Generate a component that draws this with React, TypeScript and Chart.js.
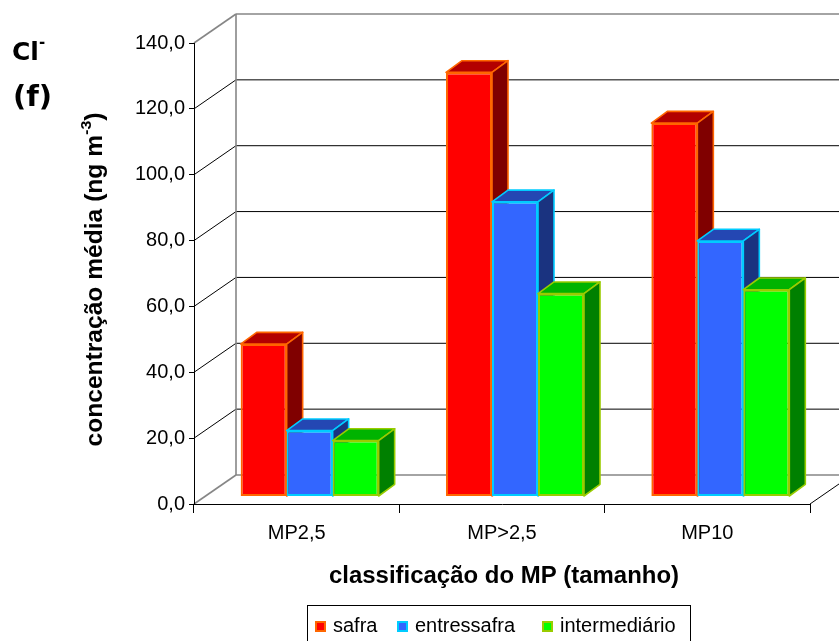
import { useEffect, useRef } from 'react';
import { Chart, registerables } from 'chart.js';

Chart.register(...registerables);

// Mean chloride concentration (ng m-3) per particle-size class and season
const categories = ['MP2,5', 'MP>2,5', 'MP10'];
const seriesNames = ['safra', 'entressafra', 'intermediário'];
const safra = [46.3, 128.8, 113.4];
const entressafra = [20.0, 89.5, 77.6];
const intermediario = [17.0, 61.6, 62.8];
const yMin = 0;
const yMax = 140;
const yStep = 20;

const frontColors = ['#FF0000', '#3366FF', '#00FF00'];
const edgeColors = ['#FF6600', '#00CCFF', '#99CC00'];
const topColors = ['#B30000', '#2447B3', '#00B300'];
const sideColors = ['#800000', '#1A3380', '#008000'];

const SANS = '"Liberation Sans", Arial, Helvetica, sans-serif';
const DECOR = '"DejaVu Sans", "Liberation Sans", sans-serif';

// oblique projection of the plot depth, the bars' placement and their own depth
const WALL = { dx: 42, dy: -29 };
const BAR_OFFSET = { dx: 13, dy: -7.5 };
const BAR_DEPTH = { dx: 16, dy: -11.7 };

const LEGEND_BOX = { x: 307.5, y: 605.5, w: 383, h: 60 };
const LEGEND_MARK_X = [315, 397, 542];

function seg(ctx: CanvasRenderingContext2D, x1: number, y1: number, x2: number, y2: number, color: string, w: number) {
  ctx.beginPath();
  ctx.moveTo(x1, y1);
  ctx.lineTo(x2, y2);
  ctx.strokeStyle = color;
  ctx.lineWidth = w;
  ctx.stroke();
}

function poly(ctx: CanvasRenderingContext2D, pts: number[][], fill: string, stroke: string) {
  ctx.beginPath();
  ctx.moveTo(pts[0][0], pts[0][1]);
  for (let i = 1; i < pts.length; i++) ctx.lineTo(pts[i][0], pts[i][1]);
  ctx.closePath();
  ctx.fillStyle = fill;
  ctx.fill();
  ctx.strokeStyle = stroke;
  ctx.lineWidth = 1.6;
  ctx.stroke();
}

type Part = { text: string; font: string; rise?: number };

// draws a run of differently styled text pieces, centred on (0,0) of the current transform
function richText(ctx: CanvasRenderingContext2D, parts: Part[], width?: number) {
  ctx.save();
  const widths = parts.map((p) => {
    ctx.font = p.font;
    return ctx.measureText(p.text).width;
  });
  const total = widths.reduce((s, w) => s + w, 0);
  if (width) ctx.scale(width / total, 1);
  ctx.textAlign = 'left';
  ctx.textBaseline = 'middle';
  ctx.fillStyle = '#000';
  let x = -total / 2;
  parts.forEach((p, i) => {
    ctx.font = p.font;
    ctx.fillText(p.text, x, -(p.rise || 0));
    x += widths[i];
  });
  ctx.restore();
}

const box3d = {
  id: 'box3d',
  beforeDraw(chart: any) {
    const { ctx, chartArea: a } = chart;
    const y = chart.scales.y;
    ctx.save();
    ctx.fillStyle = '#fff';
    ctx.fillRect(0, 0, chart.width, chart.height);
    const backLeft = a.left + WALL.dx;
    const backRight = a.right + WALL.dx;
    y.ticks.forEach((t: any) => {
      const py = y.getPixelForValue(t.value);
      const edge = t.value === y.min || t.value === y.max;
      const col = edge ? '#868686' : '#000';
      const w = edge ? 1.6 : 1;
      seg(ctx, a.left, py, backLeft, py + WALL.dy, col, w);
      seg(ctx, backLeft, py + WALL.dy, backRight, py + WALL.dy, col, w);
    });
    seg(ctx, backLeft, a.top + WALL.dy, backLeft, a.bottom + WALL.dy, '#868686', 1.6);
    seg(ctx, a.right, a.bottom, backRight, a.bottom + WALL.dy, '#000', 1);
    ctx.restore();
  },
  beforeDatasetsDraw(chart: any) {
    const { ctx } = chart;
    const n = chart.data.datasets.length;
    ctx.save();
    ctx.translate(BAR_OFFSET.dx, BAR_OFFSET.dy);
    ctx.lineJoin = 'round';
    // painter's order: left to right inside each group, front face then top and side
    categories.forEach((_, i) => {
      for (let d = 0; d < n; d++) {
        const bar = chart.getDatasetMeta(d).data[i];
        const { x, y, base, width } = bar.getProps(['x', 'y', 'base', 'width'], true);
        bar.draw(ctx);
        const x0 = x - width / 2;
        const x1 = x + width / 2;
        const { dx, dy } = BAR_DEPTH;
        poly(ctx, [[x0, y], [x1, y], [x1 + dx, y + dy], [x0 + dx, y + dy]], topColors[d], edgeColors[d]);
        poly(ctx, [[x1, y], [x1 + dx, y + dy], [x1 + dx, base + dy], [x1, base]], sideColors[d], edgeColors[d]);
      }
    });
    ctx.restore();
    return false;
  },
  afterDraw(chart: any) {
    const { ctx, chartArea: a } = chart;
    ctx.save();

    // value axis title
    ctx.save();
    ctx.translate(96, (a.top + a.bottom) / 2 + 6);
    ctx.rotate(-Math.PI / 2);
    richText(
      ctx,
      [
        { text: 'concentração média (ng m', font: `bold 23px ${SANS}` },
        { text: '-3', font: `bold 15px ${SANS}`, rise: 9 },
        { text: ')', font: `bold 23px ${SANS}` },
      ],
      334
    );
    ctx.restore();

    // category axis title
    ctx.save();
    ctx.translate((a.left + a.right) / 2 + 2, 577);
    richText(ctx, [{ text: 'classificação do MP (tamanho)', font: `bold 23px ${SANS}` }], 350);
    ctx.restore();

    // ion and panel labels
    ctx.fillStyle = '#000';
    ctx.textAlign = 'left';
    ctx.textBaseline = 'alphabetic';
    ctx.font = `bold 25px ${DECOR}`;
    ctx.fillText('Cl', 12, 60);
    const clW = ctx.measureText('Cl').width;
    ctx.font = `bold 15px ${DECOR}`;
    ctx.fillText('-', 12 + clW, 47);
    ctx.font = `bold 29px ${DECOR}`;
    ctx.fillText('(f)', 13, 106);

    // legend
    ctx.strokeStyle = '#000';
    ctx.lineWidth = 1;
    ctx.strokeRect(LEGEND_BOX.x, LEGEND_BOX.y, LEGEND_BOX.w, LEGEND_BOX.h);
    ctx.font = `20px ${SANS}`;
    seriesNames.forEach((name, d) => {
      const mx = LEGEND_MARK_X[d];
      ctx.fillStyle = edgeColors[d];
      ctx.fillRect(mx, 621, 11, 11);
      ctx.fillStyle = frontColors[d];
      ctx.fillRect(mx + 2, 623, 7, 7);
      ctx.fillStyle = '#000';
      ctx.fillText(name, mx + 18, 632);
    });
    ctx.restore();
  },
};

export default function App() {
  const ref = useRef<HTMLCanvasElement | null>(null);

  useEffect(() => {
    if (!ref.current) return;
    const series = [safra, entressafra, intermediario];
    const chart = new Chart(ref.current, {
      type: 'bar',
      data: {
        labels: categories,
        datasets: series.map((values, i) => ({
          label: seriesNames[i],
          data: values,
          backgroundColor: frontColors[i],
          borderColor: edgeColors[i],
          borderWidth: 2,
          borderSkipped: false,
          categoryPercentage: 0.672,
          barPercentage: 1,
        })),
      },
      options: {
        responsive: false,
        animation: false,
        devicePixelRatio: 1,
        layout: { padding: { left: 0, top: 43, right: 29, bottom: 0 } },
        plugins: {
          legend: { display: false },
          tooltip: { enabled: false },
          title: { display: false },
        },
        scales: {
          x: {
            grid: { offset: true, drawOnChartArea: false, tickLength: 9, color: '#000' },
            border: { color: '#000', width: 1 },
            ticks: { font: { family: SANS, size: 20 }, color: '#000', padding: 8, maxRotation: 0 },
            afterFit: (s: any) => {
              s.height = 137;
            },
          },
          y: {
            min: yMin,
            max: yMax,
            ticks: {
              stepSize: yStep,
              font: { family: SANS, size: 20 },
              color: '#000',
              padding: 4,
              callback: (v: any) => Number(v).toFixed(1).replace('.', ','),
            },
            grid: { drawOnChartArea: false, tickLength: 5, color: '#000' },
            border: { color: '#000', width: 1 },
            afterFit: (s: any) => {
              s.width = 194;
            },
          },
        },
      },
      plugins: [box3d],
    });
    return () => chart.destroy();
  }, []);

  return (
    <div style={{ position: 'fixed', left: 0, top: 0, width: 839, height: 641, background: '#fff' }}>
      <canvas ref={ref} width={839} height={641} style={{ display: 'block', width: 839, height: 641 }} />
    </div>
  );
}
